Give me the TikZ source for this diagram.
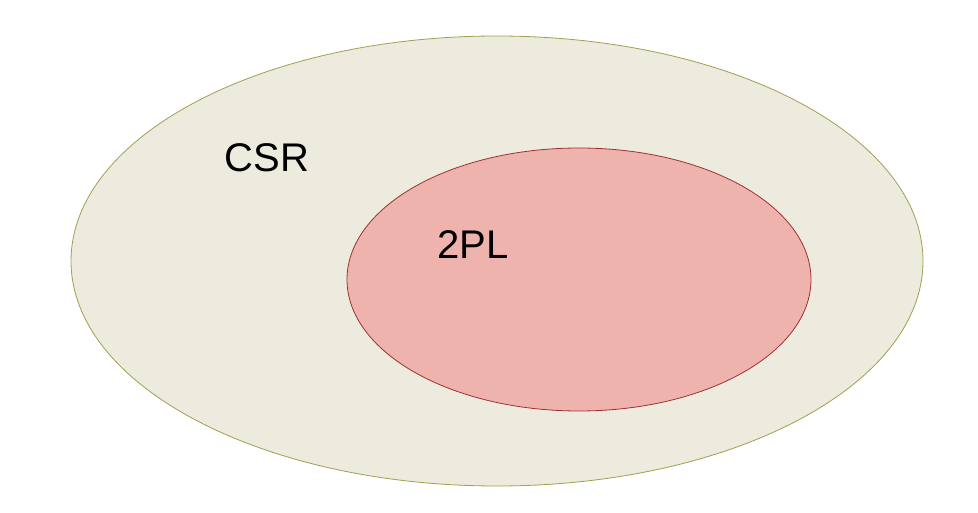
\documentclass[tikz,border=0pt]{standalone}
\usepackage{fontspec}
\setmainfont{Liberation Sans}
\usetikzlibrary{shapes.geometric}
\definecolor{csrfill}{HTML}{ECEBDE}
\definecolor{csrline}{HTML}{A0A050}
\definecolor{tplfill}{HTML}{EFB3AE}
\definecolor{tplline}{HTML}{A03030}
\tikzset{
  setshape/.style={ellipse,inner sep=0pt,line width=0.8pt},
  setlabel/.style={font=\fontsize{40}{48}\selectfont,inner sep=0pt}
}
\begin{document}
\begin{tikzpicture}[x=1pt,y=1pt]
\useasboundingbox (0,0) rectangle (978,512);
\node[setshape,fill=csrfill,draw=csrline,minimum width=852pt,minimum height=450pt] (csr) at (497,251) {};
\node[setshape,fill=tplfill,draw=tplline,minimum width=464pt,minimum height=263pt] (tpl) at (579,232.5) {};
\node[setlabel] (csrlabel) at (267,354) {CSR};
\node[setlabel] (tpllabel) at (473,267) {2PL};
\end{tikzpicture}
\end{document}
